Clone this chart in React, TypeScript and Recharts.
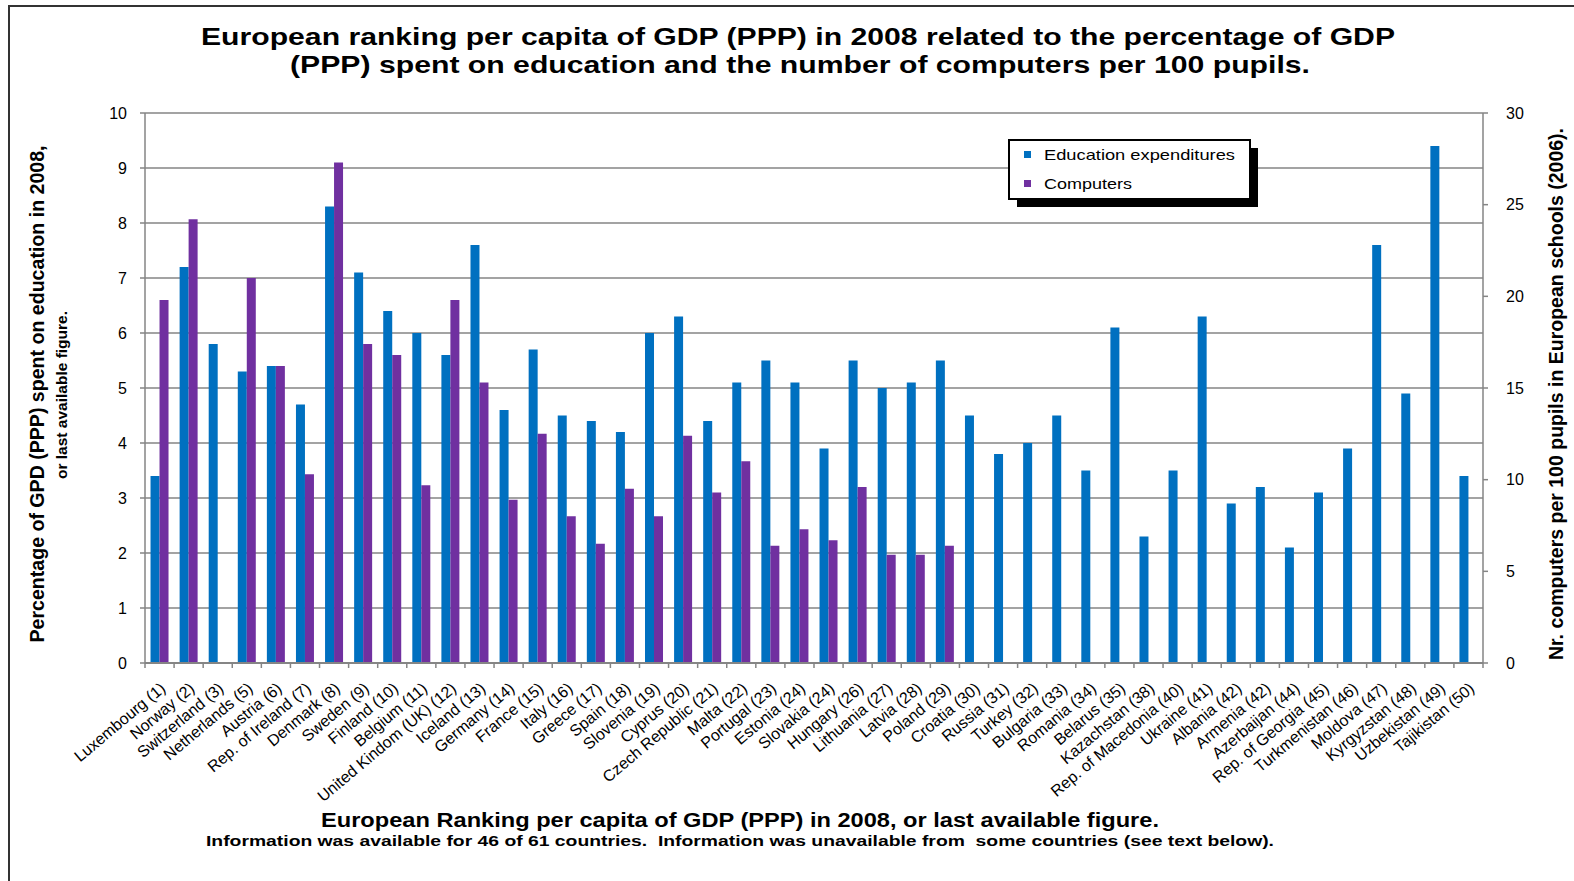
import { BarChart, Bar, XAxis, YAxis, CartesianGrid } from 'recharts'

const COUNTRIES = [
  'Luxembourg (1)', 'Norway (2)', 'Switzerland (3)', 'Netherlands (5)', 'Austria (6)',
  'Rep. of Ireland (7)', 'Denmark (8)', 'Sweden (9)', 'Finland (10)', 'Belgium (11)',
  'United Kindom (UK) (12)', 'Iceland (13)', 'Germany (14)', 'France (15)', 'Italy (16)',
  'Greece (17)', 'Spain (18)', 'Slovenia (19)', 'Cyprus (20)', 'Czech Republic (21)',
  'Malta (22)', 'Portugal (23)', 'Estonia (24)', 'Slovakia (24)', 'Hungary (26)',
  'Lithuania (27)', 'Latvia (28)', 'Poland (29)', 'Croatia (30)', 'Russia (31)',
  'Turkey (32)', 'Bulgaria (33)', 'Romania (34)', 'Belarus (35)', 'Kazachstan (38)',
  'Rep. of Macedonia (40)', 'Ukraine (41)', 'Albania (42)', 'Armenia (42)', 'Azerbaijan (44)',
  'Rep. of Georgia (45)', 'Turkmenistan (46)', 'Moldova (47)', 'Kyrgyzstan (48)', 'Uzbekistan (49)',
  'Tajikistan (50)',
]

// % of GDP (PPP) spent on education, left axis
const EDUCATION = [
  3.4, 7.2, 5.8, 5.3, 5.4, 4.7, 8.3, 7.1, 6.4, 6.0,
  5.6, 7.6, 4.6, 5.7, 4.5, 4.4, 4.2, 6.0, 6.3, 4.4,
  5.1, 5.5, 5.1, 3.9, 5.5, 5.0, 5.1, 5.5, 4.5, 3.8,
  4.0, 4.5, 3.5, 6.1, 2.3, 3.5, 6.3, 2.9, 3.2, 2.1,
  3.1, 3.9, 7.6, 4.9, 9.4, 3.4,
]

// computers per 100 pupils, right axis (null = no data)
const COMPUTERS = [
  19.8, 24.2, null, 21.0, 16.2, 10.3, 27.3, 17.4, 16.8, 9.7,
  19.8, 15.3, 8.9, 12.5, 8.0, 6.5, 9.5, 8.0, 12.4, 9.3,
  11.0, 6.4, 7.3, 6.7, 9.6, 5.9, 5.9, 6.4, null, null,
  null, null, null, null, null, null, null, null, null, null,
  null, null, null, null, null, null,
]

const LEFT_TICKS = [0, 1, 2, 3, 4, 5, 6, 7, 8, 9, 10]
const RIGHT_TICKS = [0, 5, 10, 15, 20, 25, 30]

const SERIES = [
  { key: 'education', name: 'Education expenditures', color: '#0070C0' },
  { key: 'computers', name: 'Computers', color: '#7030A0' },
]

const data = COUNTRIES.map((country, i) => ({
  country,
  education: EDUCATION[i],
  computers: COMPUTERS[i],
}))

const W = 1574
const H = 881
const GRID = '#858585'
const FONT = '"Liberation Sans", Arial, sans-serif'

const CountryTick = (props: any) => {
  const { x, y, payload, index, width } = props
  const band = (width || 1338) / COUNTRIES.length
  const tx = x + 7
  const ty = y + 27
  return (
    <g>
      <line x1={x - band / 2} y1={y} x2={x - band / 2} y2={y + 5} stroke={GRID} strokeWidth={1.5} />
      {index === COUNTRIES.length - 1 && (
        <line x1={x + band / 2} y1={y} x2={x + band / 2} y2={y + 5} stroke={GRID} strokeWidth={1.5} />
      )}
      <text
        x={tx}
        y={ty}
        transform={`rotate(-40, ${tx}, ${ty})`}
        textAnchor="end"
        fontFamily={FONT}
        fontSize={16}
        fill="#000"
      >
        {payload.value}
      </text>
    </g>
  )
}

export default function App() {
  return (
    <div style={{ position: 'relative', width: W, height: H, background: '#fff' }}>
      <style>{'body{margin:0}'}</style>
      <BarChart
        width={W}
        height={H}
        data={data}
        margin={{ top: 113, right: 51, bottom: 208, left: 105 }}
        barCategoryGap="19%"
        barGap={0}
      >
        <CartesianGrid yAxisId="left" vertical={false} stroke={GRID} strokeWidth={1.5} />
        <XAxis
          dataKey="country"
          interval={0}
          height={10}
          tickLine={false}
          tickSize={0}
          tickMargin={0}
          axisLine={{ stroke: GRID, strokeWidth: 2 }}
          tick={(p: any) => <CountryTick {...p} />}
        />
        <YAxis
          yAxisId="left"
          domain={[0, 10]}
          ticks={LEFT_TICKS}
          width={40}
          tickSize={5}
          tickMargin={13}
          axisLine={{ stroke: GRID, strokeWidth: 1.5 }}
          tickLine={{ stroke: GRID, strokeWidth: 1.5 }}
          tick={{ fill: '#000', fontSize: 16, fontFamily: FONT }}
        />
        <YAxis
          yAxisId="right"
          orientation="right"
          domain={[0, 30]}
          ticks={RIGHT_TICKS}
          width={40}
          tickSize={5}
          tickMargin={18}
          axisLine={{ stroke: GRID, strokeWidth: 1.5 }}
          tickLine={{ stroke: GRID, strokeWidth: 1.5 }}
          tick={{ fill: '#000', fontSize: 16, fontFamily: FONT }}
        />
        <Bar yAxisId="left" dataKey="education" name={SERIES[0].name} fill={SERIES[0].color} isAnimationActive={false} />
        <Bar yAxisId="right" dataKey="computers" name={SERIES[1].name} fill={SERIES[1].color} isAnimationActive={false} />
      </BarChart>

      {/* titles, axis titles, legend and frame drawn on top */}
      <svg width={W} height={H} style={{ position: 'absolute', left: 0, top: 0, pointerEvents: 'none', whiteSpace: 'pre' }}>
        <rect x={9} y={6} width={W + 20} height={H + 20} fill="none" stroke="#333" strokeWidth={2} />
        <g fontFamily={FONT} fontWeight="bold" fill="#000" textAnchor="middle">
          <text x={798} y={45} fontSize={24} textLength={1194} lengthAdjust="spacingAndGlyphs">
            European ranking per capita of GDP (PPP) in 2008 related to the percentage of GDP
          </text>
          <text x={800} y={73} fontSize={24} textLength={1020} lengthAdjust="spacingAndGlyphs">
            (PPP) spent on education and the number of computers per 100 pupils.
          </text>
          <text x={740} y={827} fontSize={20} textLength={838} lengthAdjust="spacingAndGlyphs">
            European Ranking per capita of GDP (PPP) in 2008, or last available figure.
          </text>
          <text x={740} y={846} fontSize={15} textLength={1068} lengthAdjust="spacingAndGlyphs" xmlSpace="preserve">
            {'Information was available for 46 of 61 countries.  Information was unavailable from  some countries (see text below).'}
          </text>
          <text transform="translate(44,394) rotate(-90)" fontSize={20} textLength={497} lengthAdjust="spacingAndGlyphs">
            Percentage of GPD (PPP) spent on education in 2008,
          </text>
          <text transform="translate(67,395) rotate(-90)" fontSize={15} textLength={168} lengthAdjust="spacingAndGlyphs">
            or last available figure.
          </text>
          <text transform="translate(1563,394) rotate(-90)" fontSize={21} textLength={532} lengthAdjust="spacingAndGlyphs">
            Nr. computers per 100 pupils in European schools (2006).
          </text>
        </g>
        <g>
          <rect x={1017} y={148} width={241} height={59} fill="#000" />
          <rect x={1009} y={140} width={241} height={59} fill="#fff" stroke="#000" strokeWidth={2} />
          {SERIES.map((s, i) => (
            <g key={s.key}>
              <rect x={1024} y={151 + i * 29} width={7} height={7} fill={s.color} />
              <text x={1044} y={160 + i * 29} fontFamily={FONT} fontSize={15} fill="#000" textLength={s.key === 'education' ? 191 : 88} lengthAdjust="spacingAndGlyphs">
                {s.name}
              </text>
            </g>
          ))}
        </g>
      </svg>
    </div>
  )
}
